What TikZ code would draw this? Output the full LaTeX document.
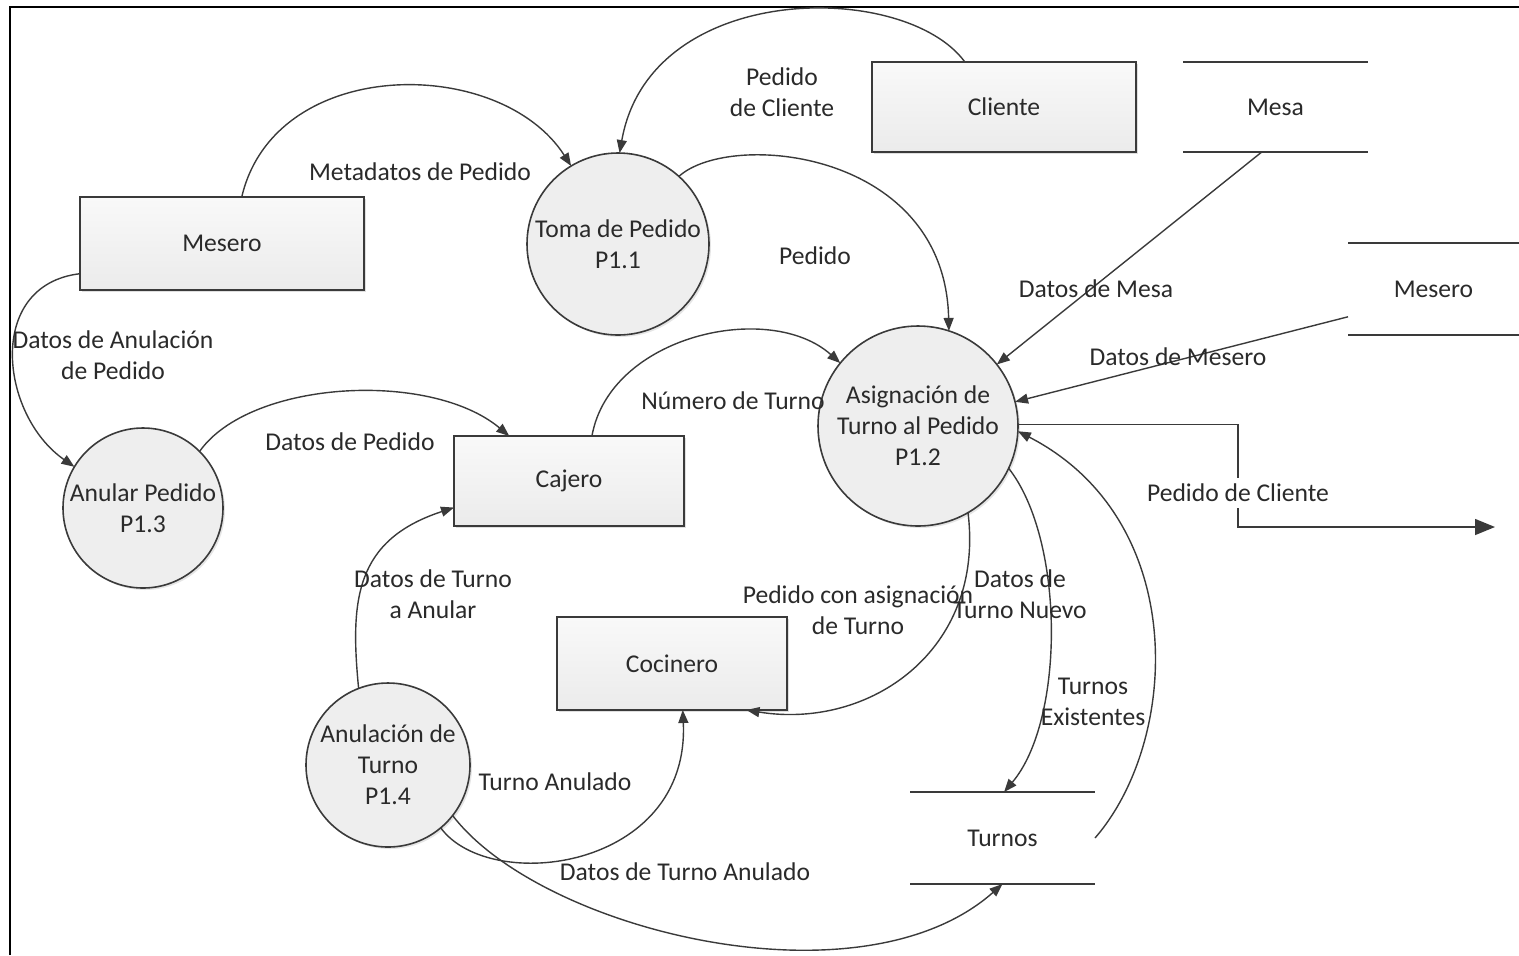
\documentclass[tikz,border=0pt]{standalone}
\usepackage{fontspec}
\setmainfont{Carlito}
\usetikzlibrary{arrows.meta,shadows}
\definecolor{ink}{HTML}{3A3A3A}
\definecolor{txt}{HTML}{2A2A2A}
\definecolor{boxtop}{HTML}{F9F9F9}
\definecolor{boxbot}{HTML}{EBEBEB}
\definecolor{procfill}{HTML}{EEEEEE}
\begin{document}
\begin{tikzpicture}[x=0.5pt,y=-0.5pt,
  every node/.style={font=\fontsize{12.8}{15.5}\selectfont, text=txt},
  entity/.style={draw=ink, line width=1pt, top color=boxtop, bottom color=boxbot,
    inner sep=0pt, outer sep=0pt,
    drop shadow={shadow xshift=1.2pt, shadow yshift=-1.2pt, fill=black!25, opacity=0.5}},
  process/.style={circle, draw=ink, line width=0.8pt, fill=procfill, align=center,
    inner sep=0pt, outer sep=0pt,
    drop shadow={shadow xshift=1pt, shadow yshift=-1pt, fill=black!25, opacity=0.4}},
  store/.style={inner sep=0pt, outer sep=0pt},
  storeline/.style={draw=ink, line width=1pt},
  flow/.style={draw=ink, line width=0.7pt, -{Triangle[length=6.5pt,width=5pt]}},
  lbl/.style={inner sep=1pt, align=center}
]
\useasboundingbox (0,0) rectangle (1519,955);

% page frame
\draw[black, line width=1pt] (10,955) -- (10,7) -- (1519,7);

% external entities
\node[entity, minimum width=132pt, minimum height=45pt] (cliente) at (1004,107) {Cliente};
\node[entity, minimum width=142pt, minimum height=46.5pt] (mesero) at (222,243.5) {Mesero};
\node[entity, minimum width=115pt, minimum height=45pt] (cajero) at (569,481) {Cajero};
\node[entity, minimum width=115pt, minimum height=46.5pt] (cocinero) at (672,663.5) {Cocinero};

% processes
\node[process, minimum size=91pt] (p11) at (618,244) {Toma de Pedido\\P1.1};
\node[process, minimum size=100pt] (p12) at (918,426) {Asignación de\\Turno al Pedido\\P1.2};
\node[process, minimum size=80pt] (p13) at (143,508) {Anular Pedido\\P1.3};
\node[process, minimum size=82pt] (p14) at (388,765) {Anulación de\\Turno\\P1.4};

% data stores
\node[store, minimum width=92.5pt, minimum height=45pt] (mesa) at (1275.5,107) {Mesa};
\node[store, minimum width=85.5pt, minimum height=46pt] (meserost) at (1433.5,289) {Mesero};
\node[store, minimum width=92.5pt, minimum height=46pt] (turnos) at (1002.5,838) {Turnos};
\foreach \s in {mesa,meserost,turnos}{
  \draw[storeline] (\s.north west) -- (\s.north east);
  \draw[storeline] (\s.south west) -- (\s.south east);
}

% data flows
\draw[flow] (mesero.67) .. controls (275,55) and (500,55) .. (p11.121);
\draw[flow] (cliente.131) .. controls (905,-20) and (650,-20) .. (p11.89);
\draw[flow] (p11.48) .. controls (730,130) and (945,150) .. (p12.72);
\draw[flow] (mesa.-107) -- (p12.38);
\draw[flow] (meserost.198) -- (p12.14);
\draw[flow] (cajero.63) .. controls (610,335) and (770,300) .. (p12.141);
\draw[flow] (mesero.192) .. controls (-15,285) and (0,415) .. (p13.149);
\draw[flow] (p13.45) .. controls (250,380) and (430,370) .. (cajero.143);
\draw[flow] (p14.111) .. controls (350,600) and (355,540) .. (cajero.193);
\draw[flow] (p14.-50) .. controls (490,895) and (690,870) .. (cocinero.-77);
\draw[flow] (p14.-38) .. controls (540,930) and (860,1010) .. (turnos.south);
\draw[flow] (p12.-60) .. controls (985,650) and (870,730) .. (cocinero.-32);
\draw[flow] (p12.-25) .. controls (1065,540) and (1065,720) .. (turnos.88);
\draw[flow] (turnos.east) .. controls (1180,740) and (1190,520) .. (p12.-3);
\coordinate (bend) at (1238,527);
\coordinate (pcout) at (1495,527);
\draw[draw=ink, line width=0.7pt, -{Triangle[length=10pt,width=8pt]}] (p12.1) -| (bend) -- (pcout);

% flow labels
\node[lbl] (l1) at (420,172) {Metadatos de Pedido};
\node[lbl] (l2) at (782,92.5) {Pedido\\de Cliente};
\node[lbl] (l3) at (815,256) {Pedido};
\node[lbl] (l4) at (1096,289) {Datos de Mesa};
\node[lbl] (l5) at (1178,357) {Datos de Mesero};
\node[lbl] (l6) at (733,401) {Número de Turno};
\node[lbl] (l7) at (113,355) {Datos de Anulación\\de Pedido};
\node[lbl] (l8) at (350,442) {Datos de Pedido};
\node[lbl] (l9) at (433,594.5) {Datos de Turno\\a Anular};
\node[lbl] (l10) at (555,782) {Turno Anulado};
\node[lbl] (l11) at (685,872) {Datos de Turno Anulado};
\node[lbl] (l12) at (858,610.5) {Pedido con asignación\\de Turno};
\node[lbl] (l13) at (1020,594.5) {Datos de\\Turno Nuevo};
\node[lbl] (l14) at (1093,701.5) {Turnos\\Existentes};
\node[lbl, fill=white, inner ysep=3pt] (l15) at (1238,493) {Pedido de Cliente};
\end{tikzpicture}
\end{document}
